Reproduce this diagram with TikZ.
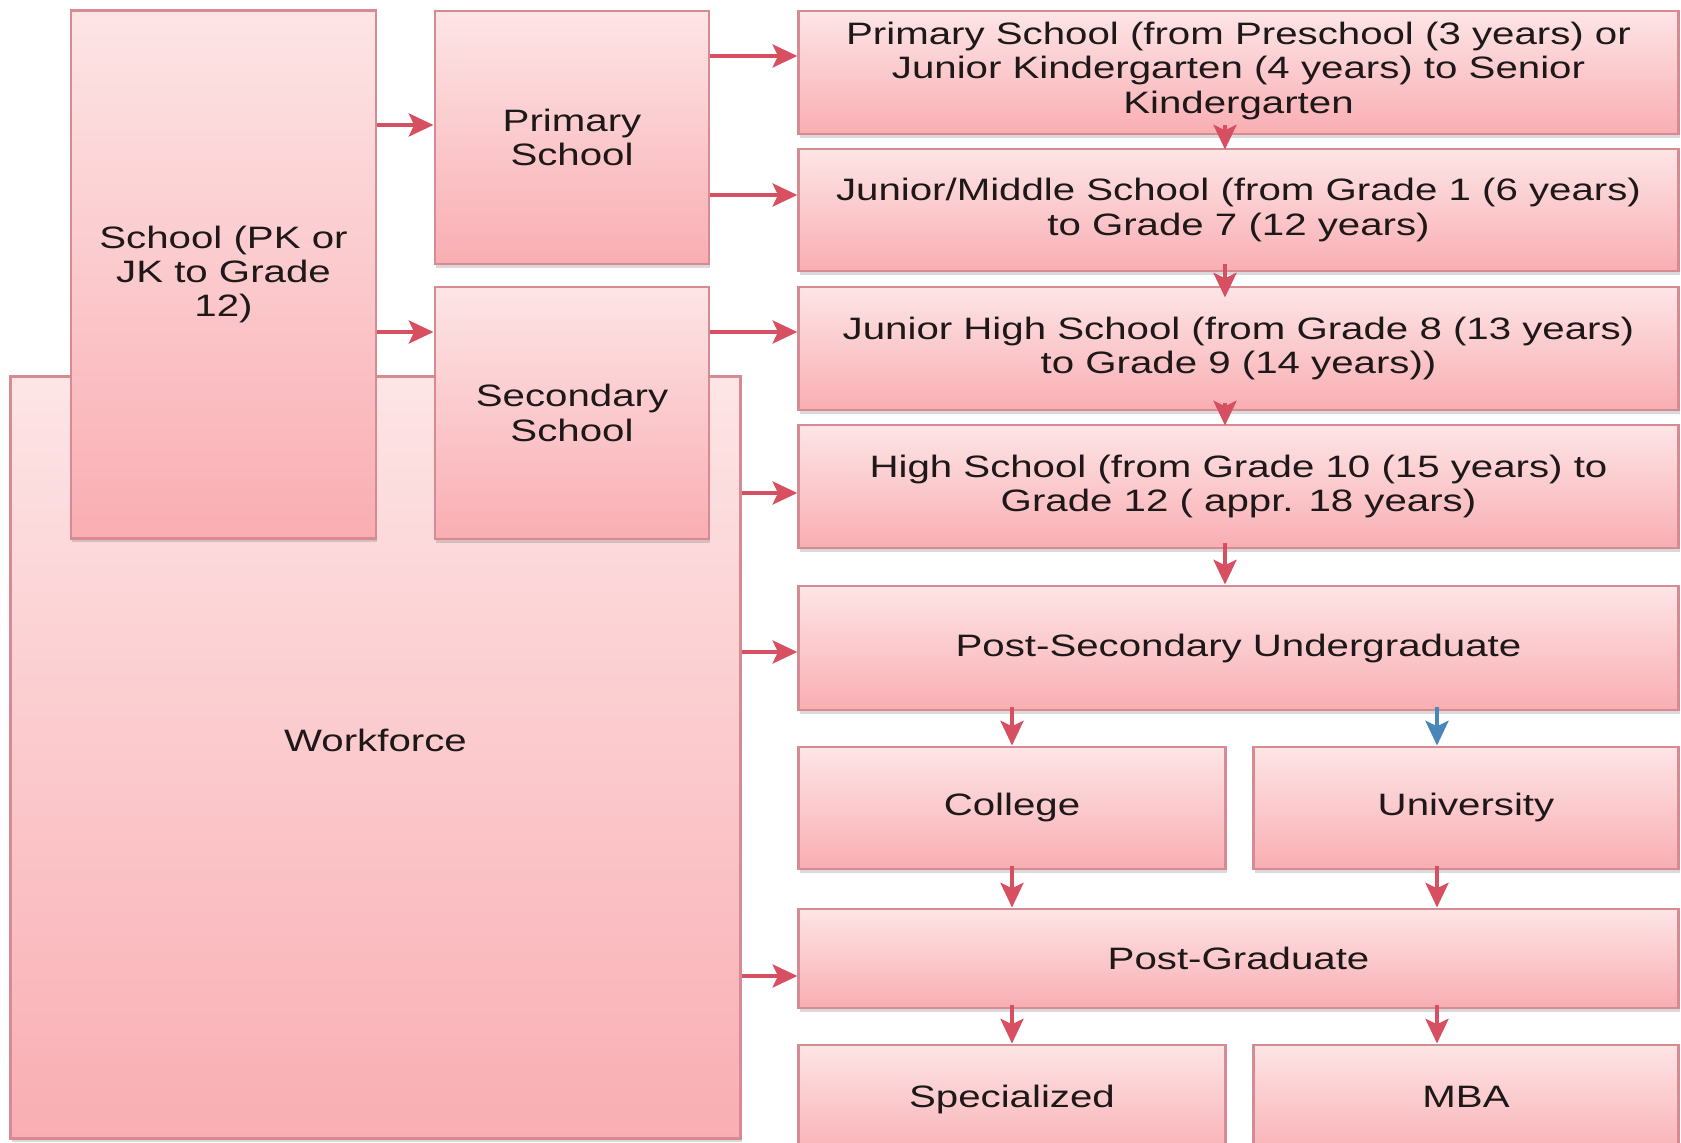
\documentclass[tikz,border=0pt]{standalone}
\usepackage{fontspec}
\setmainfont{Liberation Sans}[FakeStretch=1.3]
\usepackage{tikz}
\definecolor{boxtop}{RGB}{253,229,230}
\definecolor{boxbottom}{RGB}{249,174,179}
\definecolor{boxborder}{RGB}{214,138,146}
\definecolor{arrowred}{RGB}{214,80,98}
\definecolor{arrowblue}{RGB}{74,134,184}
\definecolor{textgrey}{RGB}{30,24,24}
\usetikzlibrary{shadows}
\usetikzlibrary{arrows.meta}
\tikzset{block/.style={rectangle,draw=boxborder,top color=boxtop,bottom color=boxbottom,line width=0.8pt,text=textgrey,align=center,inner sep=0pt,font=\fontsize{8.8}{9.8}\selectfont,drop shadow={shadow xshift=0.4pt,shadow yshift=-1.2pt,opacity=0.3}}}
\tikzset{link/.style={arrowred,>={Stealth[length=7pt,width=6.5pt,inset=1.5pt]},line width=1.3pt,->}}
\tikzset{bluelink/.style={link,arrowblue}}

\begin{document}
\begin{tikzpicture}[x=0.01cm,y=-0.01cm]
  \clip (0,0) rectangle (1681,1143);

  % Left part
  \node[block,minimum width=7.29cm,minimum height=7.61cm,text depth=0.34cm] (work) at (375.5,757.5) {Workforce};
  \node[block,minimum width=3.05cm,minimum height=5.27cm] (school) at (223.5,274.5) {School (PK or\\JK to Grade\\12)};
  \node[block,minimum width=2.74cm,minimum height=2.53cm] (prim) at (572,137.5) {Primary\\School};
  \node[block,minimum width=2.74cm,minimum height=2.52cm] (sec) at (572,413) {Secondary\\School};

  % Right column
  \node[block,minimum width=8.79cm,minimum height=1.23cm,text depth=0.1cm] (b1) at (1238.5,72.5) {Primary School (from Preschool (3 years) or\\Junior Kindergarten (4 years) to Senior\\Kindergarten};
  \node[block,minimum width=8.79cm,minimum height=1.22cm] (b2) at (1238.5,210) {Junior/Middle School (from Grade 1 (6 years)\\to Grade 7 (12 years)};
  \node[block,minimum width=8.79cm,minimum height=1.23cm] (b3) at (1238.5,348.5) {Junior High School (from Grade 8 (13 years)\\to Grade 9 (14 years))};
  \node[block,minimum width=8.79cm,minimum height=1.23cm] (b4) at (1238.5,486.5) {High School (from Grade 10 (15 years) to\\Grade 12 ( appr. 18 years)};
  \node[block,minimum width=8.79cm,minimum height=1.24cm] (under) at (1238.5,648) {Post-Secondary Undergraduate};
  \node[block,minimum width=4.26cm,minimum height=1.22cm] (college) at (1012,808) {College};
  \node[block,minimum width=4.24cm,minimum height=1.22cm] (univ) at (1466,808) {University};
  \node[block,minimum width=8.79cm,minimum height=0.99cm] (postgrad) at (1238.5,958.5) {Post-Graduate};
  \node[block,minimum width=4.26cm,minimum height=1.15cm,text depth=0.12cm] (special) at (1012,1102.5) {Specialized};
  \node[block,minimum width=4.24cm,minimum height=1.15cm,text depth=0.12cm] (mba) at (1466,1102.5) {MBA};

  % Arrows across
  \draw[link] (school.east |- 0,125) -- (prim.west |- 0,125);
  \draw[link] (school.east |- 0,332) -- (sec.west |- 0,332);
  \draw[link] (prim.east |- 0,56) -- (b1.west |- 0,56);
  \draw[link] (prim.east |- 0,195) -- (b2.west |- 0,195);
  \draw[link] (sec.east |- 0,332) -- (b3.west |- 0,332);
  \draw[link] (work.east |- 0,493) -- (b4.west |- 0,493);
  \draw[link] (work.east |- 0,652) -- (under.west |- 0,652);
  \draw[link] (work.east |- 0,976) -- (postgrad.west |- 0,976);

  % Arrows down
  \draw[link] ([yshift=0.1cm]b1.south -| 1225,0) -- ([yshift=-0.02cm]b2.north -| 1225,0);
  \draw[link] ([yshift=0.08cm]b2.south -| 1225,0) -- ([yshift=-0.12cm]b3.north -| 1225,0);
  \draw[link] ([yshift=0.08cm]b3.south -| 1225,0) -- ([yshift=-0.02cm]b4.north -| 1225,0);
  \draw[link] ([yshift=0.06cm]b4.south -| 1225,0) -- (under.north -| 1225,0);
  \draw[link] ([yshift=0.04cm]under.south -| college.north) -- (college.north);
  \draw[bluelink] ([yshift=0.04cm]under.south -| 1437,0) -- (univ.north -| 1437,0);
  \draw[link] ([yshift=0.04cm]college.south) -- (college.south |- postgrad.north);
  \draw[link] ([yshift=0.04cm]univ.south -| 1437,0) -- (postgrad.north -| 1437,0);
  \draw[link] ([yshift=0.04cm]postgrad.south -| special.north) -- (special.north);
  \draw[link] ([yshift=0.04cm]postgrad.south -| 1437,0) -- (mba.north -| 1437,0);
\end{tikzpicture}
\end{document}
